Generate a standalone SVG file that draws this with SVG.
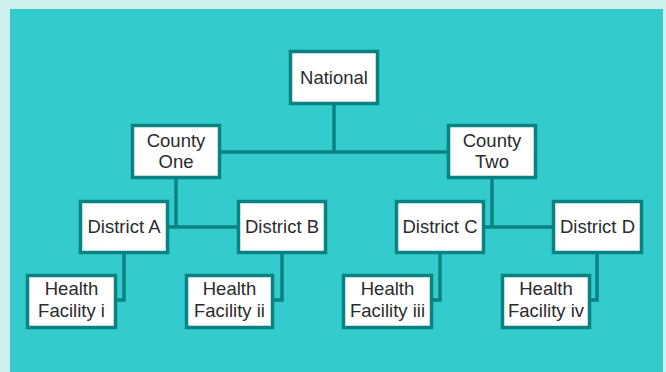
<svg xmlns="http://www.w3.org/2000/svg" width="666" height="372" viewBox="0 0 666 372">
<style>
.box{fill:#ffffff;stroke:#0b8282;stroke-width:3.5}
.ln{fill:none;stroke:#0b8282;stroke-width:3.5}
text{font-family:"Liberation Sans",Arial,sans-serif;font-size:18.5px;fill:#2b2b2b;text-anchor:middle}
</style>
<rect x="0" y="0" width="666" height="372" fill="#cdefed"/>
<rect x="10" y="9" width="653" height="363" fill="#33cbcb"/>
<g id="connectors">
<path class="ln" d="M334 104V152M221 152H447"/>
<path class="ln" d="M176 179V227M169 227H237"/>
<path class="ln" d="M492 179V227M485 227H552"/>
<path class="ln" d="M124 254V300H117"/>
<path class="ln" d="M282 254V300H274"/>
<path class="ln" d="M440 254V300H433"/>
<path class="ln" d="M597 254V300H591"/>
</g>
<g id="national"><rect class="box" x="290.5" y="51.5" width="87" height="52"/><text x="334" y="84">National</text></g>
<g id="county-one"><rect class="box" x="132.5" y="125.5" width="87" height="52"/><text x="176" y="147">County</text><text x="176" y="168">One</text></g>
<g id="county-two"><rect class="box" x="448.5" y="125.5" width="87" height="52"/><text x="492" y="147">County</text><text x="492" y="168">Two</text></g>
<g id="district-a"><rect class="box" x="80.5" y="201.5" width="87" height="51"/><text x="124" y="233">District A</text></g>
<g id="district-b"><rect class="box" x="238.5" y="201.5" width="87" height="51"/><text x="282" y="233">District B</text></g>
<g id="district-c"><rect class="box" x="396.5" y="201.5" width="87" height="51"/><text x="440" y="233">District C</text></g>
<g id="district-d"><rect class="box" x="553.5" y="201.5" width="88" height="51"/><text x="597.5" y="233">District D</text></g>
<g id="hf-i"><rect class="box" x="27.5" y="275.5" width="88" height="52"/><text x="71.5" y="295">Health</text><text x="71.5" y="317">Facility i</text></g>
<g id="hf-ii"><rect class="box" x="186.5" y="275.5" width="86" height="52"/><text x="229.5" y="295">Health</text><text x="229.5" y="317">Facility ii</text></g>
<g id="hf-iii"><rect class="box" x="343.5" y="275.5" width="88" height="52"/><text x="387.5" y="295">Health</text><text x="387.5" y="317">Facility iii</text></g>
<g id="hf-iv"><rect class="box" x="502.5" y="275.5" width="87" height="52"/><text x="546" y="295">Health</text><text x="546" y="317">Facility iv</text></g>
</svg>
